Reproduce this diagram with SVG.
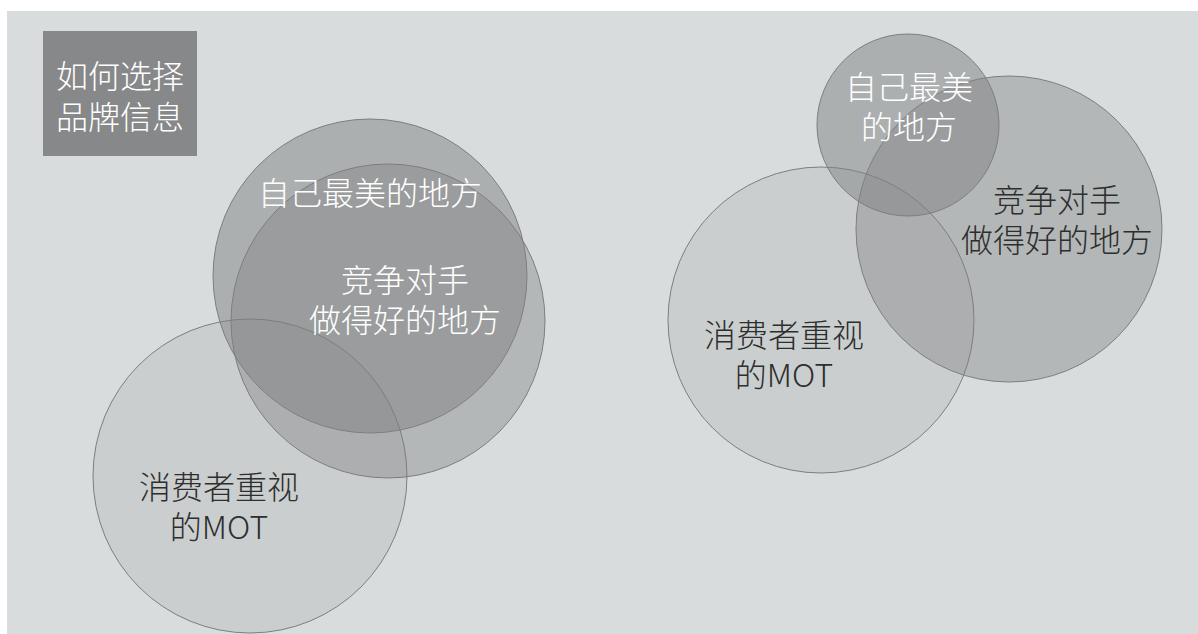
<svg xmlns="http://www.w3.org/2000/svg" width="1198" height="634" viewBox="0 0 1198 634">
<style>
.bg{fill:#d9dcdc}
.c{stroke:#7c7e80;stroke-width:1;fill:#808284}
.t{font-family:"Noto Sans CJK SC","Noto Sans",sans-serif;font-size:32px;font-weight:200;text-anchor:middle}
.w{fill:#ffffff}
.d{fill:#2e2e2e}
</style>
<rect x="0" y="0" width="1198" height="634" fill="#ffffff"/>
<rect class="bg" x="7" y="11" width="1191" height="623"/>
<g id="title">
<rect x="43" y="31" width="154" height="125" fill="#878889"/>
<text class="t w" x="120" y="88">如何选择<tspan x="120" dy="41">品牌信息</tspan></text>
</g>
<g id="left-self">
<circle class="c" cx="370" cy="276" r="157" fill-opacity="0.5"/>
</g>
<g id="left-competitor">
<circle class="c" cx="388" cy="321" r="157" fill-opacity="0.42"/>
</g>
<g id="left-mot">
<circle class="c" cx="250" cy="476" r="157" fill-opacity="0.15"/>
</g>
<g id="left-labels">
<text class="t w" x="370" y="205">自己最美的地方</text>
<text class="t w" x="405" y="292">竞争对手<tspan x="405" dy="40">做得好的地方</tspan></text>
<text class="t d" x="219" y="499">消费者重视<tspan x="219" dy="40">的MOT</tspan></text>
</g>
<g id="right-competitor">
<circle class="c" cx="1009" cy="229" r="153" fill-opacity="0.42"/>
</g>
<g id="right-mot">
<circle class="c" cx="821" cy="320" r="153" fill-opacity="0.15"/>
</g>
<g id="right-self">
<circle class="c" cx="908" cy="125" r="91" fill-opacity="0.5"/>
</g>
<g id="right-labels">
<text class="t w" x="909" y="99">自己最美<tspan x="909" dy="40">的地方</tspan></text>
<text class="t d" x="1057" y="212">竞争对手<tspan x="1057" dy="40">做得好的地方</tspan></text>
<text class="t d" x="784" y="347">消费者重视<tspan x="784" dy="40">的MOT</tspan></text>
</g>
<g id="connectors"></g>
</svg>
